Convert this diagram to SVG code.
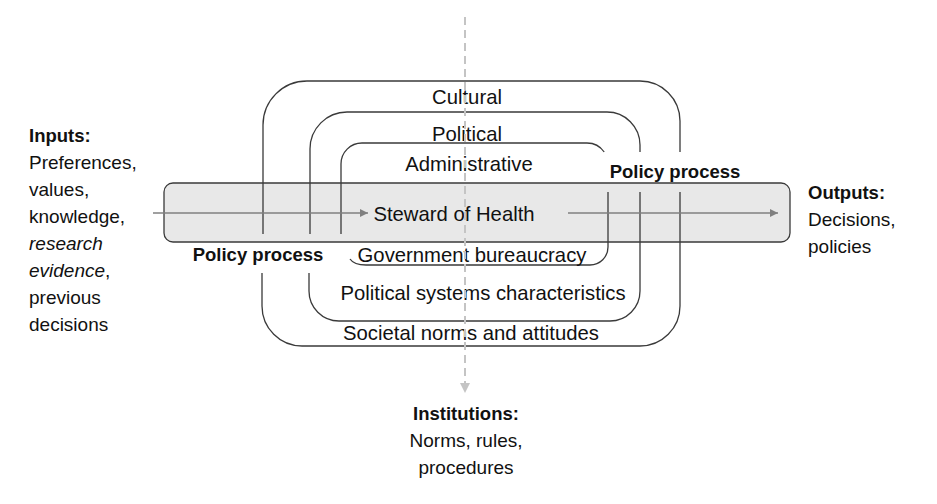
<svg xmlns="http://www.w3.org/2000/svg" width="937" height="504" viewBox="0 0 937 504">
<defs>
<style>
text{font-family:"Liberation Sans",Arial,sans-serif;font-size:19px;fill:#111}
.b{font-weight:bold;font-size:18.5px}
.c{text-anchor:middle}
.m{font-size:20.3px}
.ln{fill:none;stroke:#3a3a3a;stroke-width:1.3}
.ar{fill:none;stroke:#808080;stroke-width:1.5}
</style>
<marker id="ah" viewBox="0 0 10 10" refX="10" refY="5" markerWidth="10" markerHeight="8" markerUnits="userSpaceOnUse" orient="auto">
<path d="M0,0 L10,5 L0,10 z" fill="#808080"/>
</marker>
<marker id="dh" viewBox="0 0 10 10" refX="10" refY="5" markerWidth="10" markerHeight="10" markerUnits="userSpaceOnUse" orient="auto">
<path d="M0,0 L10,5 L0,10 z" fill="#c4c4c4"/>
</marker>
</defs>
<rect width="937" height="504" fill="#fff"/>
<g id="steward">
<rect x="164" y="183" width="626" height="59" rx="9" fill="#e8e8e8" stroke="#3a3a3a" stroke-width="1.3"/>
<text x="454" y="221" class="c m">Steward of Health</text>
</g>
<g id="cultural">
<path class="ln" d="M263,234 V125 A44,44 0 0 1 307,81 H640 A40,40 0 0 1 680,121 V152"/>
<path class="ln" d="M680,192 V306 A40,40 0 0 1 640,346 H302 A40,40 0 0 1 262,306 V273"/>
<text x="467" y="104" class="c m">Cultural</text>
<text x="471" y="340" class="c m">Societal norms and attitudes</text>
</g>
<g id="political">
<path class="ln" d="M310,234 V149 A37,37 0 0 1 347,112 H607 A33,33 0 0 1 640,145 V152"/>
<path class="ln" d="M640,192 V291 A30,30 0 0 1 610,321 H339 A30,30 0 0 1 309,291 V273"/>
<text x="467" y="141" class="c m">Political</text>
<text x="483" y="300" class="c m">Political systems characteristics</text>
</g>
<g id="administrative">
<path class="ln" d="M341,234 V164 A21,21 0 0 1 362,143 H587 A21,21 0 0 1 604.2,152"/>
<path class="ln" d="M608,192 V247 A18,18 0 0 1 590,265 H366 Q354,265 350,259"/>
<text x="469" y="171" class="c m">Administrative</text>
<text x="472" y="262" class="c m">Government bureaucracy</text>
</g>
<g id="policy-process">
<text x="258" y="261" class="c b">Policy process</text>
<text x="675" y="178" class="c b">Policy process</text>
</g>
<g id="inputs">
<text x="29" y="142" class="b">Inputs:</text>
<text x="29" y="169">Preferences,</text>
<text x="29" y="196">values,</text>
<text x="29" y="223">knowledge,</text>
<text x="29" y="250" font-style="italic">research</text>
<text x="29" y="277"><tspan font-style="italic">evidence</tspan>,</text>
<text x="29" y="304">previous</text>
<text x="29" y="331">decisions</text>
</g>
<g id="outputs">
<text x="808" y="199" class="b">Outputs:</text>
<text x="808" y="226">Decisions,</text>
<text x="808" y="253">policies</text>
</g>
<g id="institutions">
<text x="466" y="420" class="c b">Institutions:</text>
<text x="466" y="447" class="c" font-size="19.6">Norms, rules,</text>
<text x="466" y="474" class="c" font-size="19.6">procedures</text>
</g>
<g id="connectors">
<line class="ar" x1="153" y1="213" x2="368" y2="213" marker-end="url(#ah)"/>
<line class="ar" x1="568" y1="213" x2="778" y2="213" marker-end="url(#ah)"/>
<line x1="465" y1="17" x2="465" y2="393" stroke="#c4c4c4" stroke-width="2" stroke-dasharray="8,5" marker-end="url(#dh)"/>
</g>
</svg>
